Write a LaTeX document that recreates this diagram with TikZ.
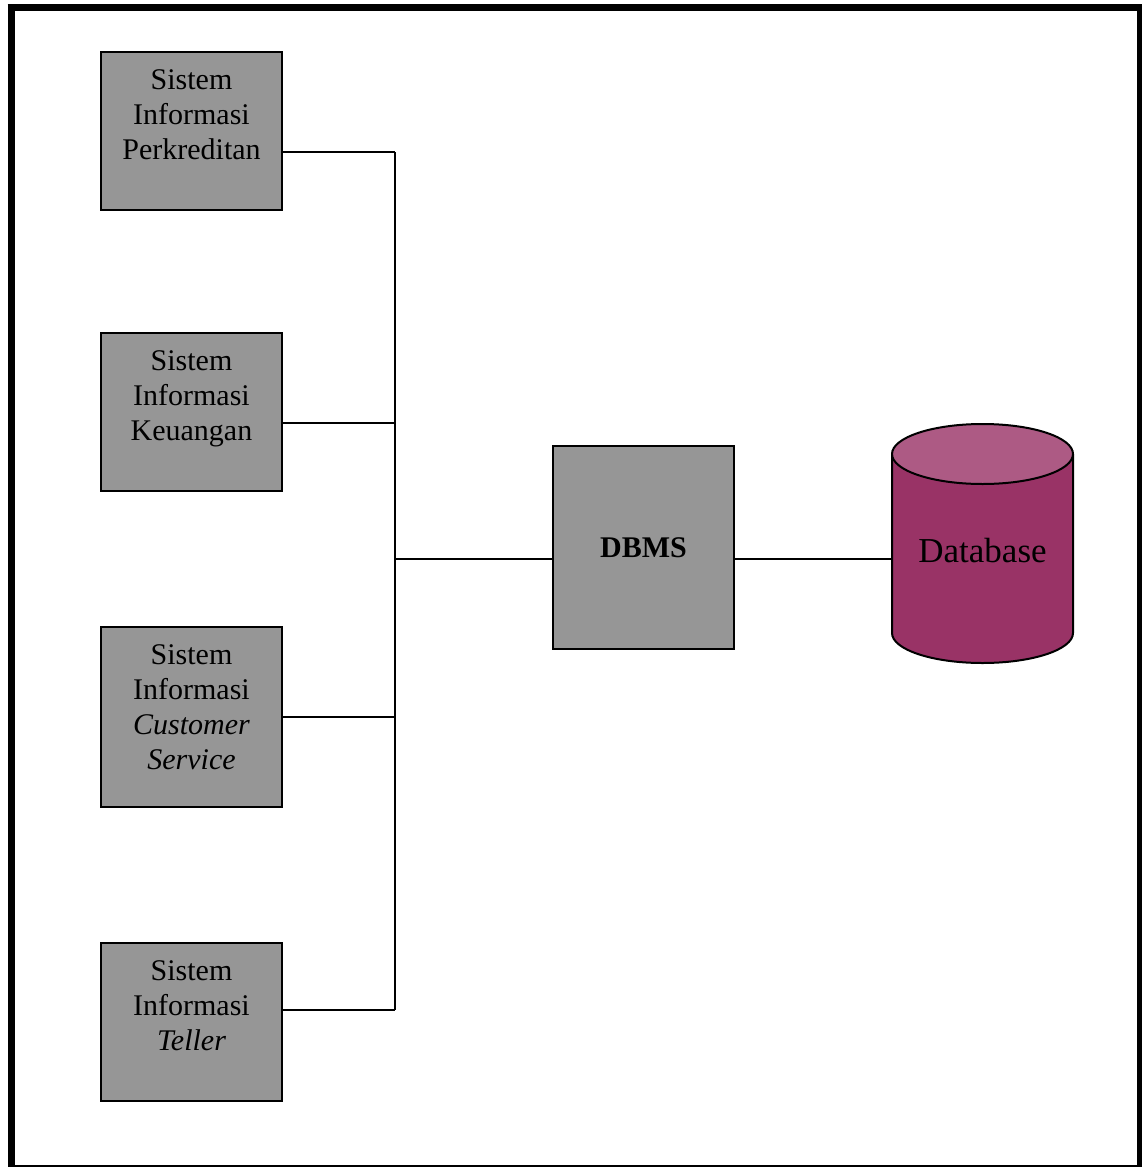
\documentclass[tikz,border=0pt]{standalone}
\usepackage{fontspec}
\setmainfont{Liberation Serif}
\usetikzlibrary{calc}
\definecolor{boxgray}{HTML}{969696}
\definecolor{dbbody}{HTML}{993366}
\definecolor{dbtop}{HTML}{AD5A84}
\tikzset{
  sysbox/.style={draw=black, line width=2pt, fill=boxgray, minimum width=181pt, inner sep=0pt},
  systext/.style={anchor=north, align=center, inner sep=0pt,
    font=\fontsize{30pt}{35pt}\selectfont},
  wire/.style={line width=2pt, draw=black},
  frame/.style={draw=black}
}
\begin{document}
\begin{tikzpicture}[x=1pt, y=-1pt]
\useasboundingbox (0,0) rectangle (1141,1167);
% outer frame
\draw[frame, line width=7pt] (7.5,7.5) -- (1141,7.5);
\draw[frame, line width=7pt] (11,4) -- (11,1167);
\draw[frame, line width=6pt] (1140,4) -- (1140,1167);
\draw[frame, line width=2pt] (8,1166) -- (1141,1166);

% application systems
\node[sysbox, minimum height=158pt] (b1) at (191.5,131) {};
\node[systext] (t1) at ($(b1.north)+(0,18)$) {Sistem\\Informasi\\Perkreditan};
\node[sysbox, minimum height=158pt] (b2) at (191.5,412) {};
\node[systext] (t2) at ($(b2.north)+(0,18)$) {Sistem\\Informasi\\Keuangan};
\node[sysbox, minimum height=180pt] (b3) at (191.5,717) {};
\node[systext] (t3) at ($(b3.north)+(0,18)$) {Sistem\\Informasi\\\textit{Customer}\\\textit{Service}};
\node[sysbox, minimum height=158pt] (b4) at (191.5,1022) {};
\node[systext] (t4) at ($(b4.north)+(0,18)$) {Sistem\\Informasi\\\textit{Teller}};

% DBMS
\node[sysbox, minimum height=203pt, font=\fontsize{30pt}{35pt}\selectfont\bfseries] (dbms) at (643.5,547.5) {DBMS};

% database cylinder
\fill[dbbody] (892,454) -- (892,633) arc[start angle=180, end angle=0, x radius=90.5, y radius=30] -- (1073,454) -- cycle;
\draw[line width=2pt] (892,454) -- (892,633) arc[start angle=180, end angle=0, x radius=90.5, y radius=30] -- (1073,454);
\draw[line width=2pt, fill=dbtop] (982.5,454) ellipse[x radius=90.5, y radius=30];
\node[inner sep=0pt, minimum width=181pt, minimum height=10pt, font=\fontsize{35pt}{40pt}\selectfont] (db) at (982.5,551) {Database};

% bus and connections
\coordinate (bustop) at (395,152);
\coordinate (busbot) at (395,1010);
\coordinate (junc) at (395,559);
\draw[wire] (bustop) -- (busbot);
\draw[wire] (b1.east |- bustop) -- (bustop);
\draw[wire] (b2.east |- 0,423) -- (395,423);
\draw[wire] (b3.east |- 0,717) -- (395,717);
\draw[wire] (b4.east |- busbot) -- (busbot);
\draw[wire] (junc) -- (junc -| dbms.west);
\draw[wire] (dbms.east |- junc) -- (db.west |- junc);
\end{tikzpicture}
\end{document}
